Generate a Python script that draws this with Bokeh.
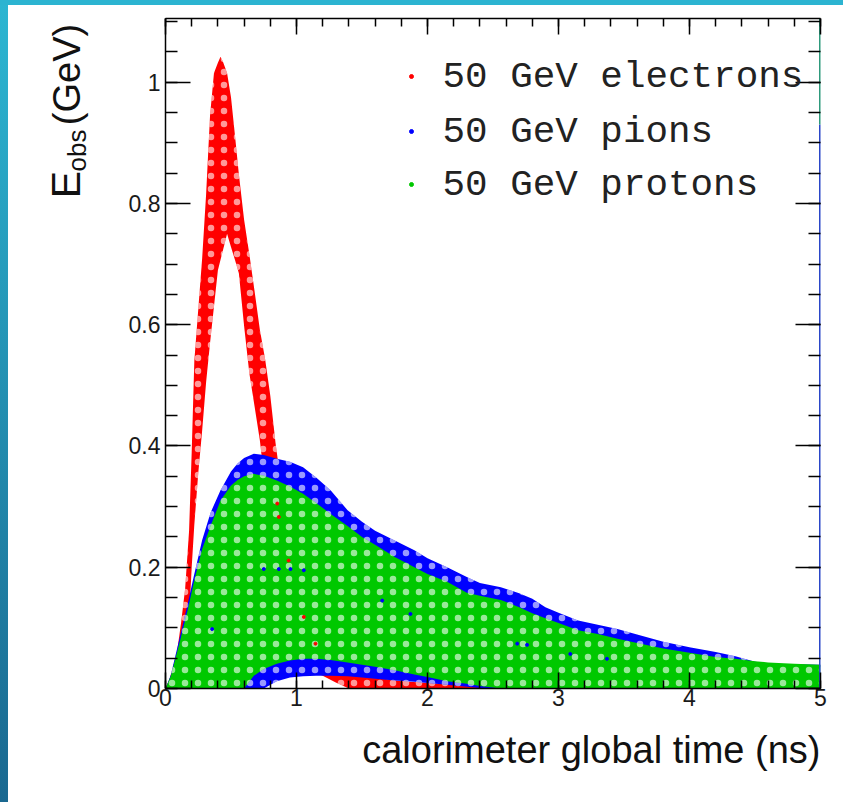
import numpy as np
from bokeh.plotting import figure
from bokeh.layouts import row
from bokeh.models import (Range1d, LinearAxis, SingleIntervalTicker, CustomJSTickFormatter,
                          Label, Title)
from bokeh.embed import file_html
from bokeh.resources import INLINE

# ---------------- data ----------------
T_ELEC = [0, 0.03, 0.06, 0.09, 0.12, 0.15, 0.18, 0.20, 0.22, 0.25, 0.28, 0.31, 0.34, 0.37,
          0.40, 0.42, 0.44, 0.47, 0.50, 0.53, 0.56, 0.60, 0.64, 0.68, 0.72, 0.76, 0.80,
          0.84, 0.88, 0.95, 1.0, 1.1, 1.2, 1.3, 1.4, 1.6, 1.8, 2.1, 2.4, 3.0, 4.0, 5.0]
E_ELEC_HIGH = [0, 0.015, 0.037, 0.063, 0.11, 0.165, 0.26, 0.39, 0.54, 0.625, 0.71, 0.815,
               0.945, 1.015, 1.032, 1.042, 1.033, 1.015, 0.975, 0.913, 0.848, 0.773, 0.716,
               0.655, 0.592, 0.544, 0.483, 0.405, 0.34, 0.26, 0.21, 0.13, 0.07, 0.04, 0.025,
               0.018, 0.012, 0.008, 0.005, 0.004, 0.004, 0.004]
E_ELEC_LOW = [0, 0, 0.005, 0.02, 0.036, 0.055, 0.115, 0.20, 0.27, 0.355, 0.426, 0.505,
              0.57, 0.63, 0.69, 0.707, 0.724, 0.75, 0.728, 0.707, 0.685, 0.598, 0.52, 0.465,
              0.41, 0.335, 0.28, 0.23, 0.175, 0.10, 0.06, 0.03, 0.021, 0.01, 0.0, 0, 0, 0, 0,
              0, 0, 0]

T_HAD = [0, 0.04, 0.115, 0.17, 0.216, 0.28, 0.344, 0.42, 0.5, 0.55, 0.6, 0.674, 0.75, 0.85,
         0.95, 1.05, 1.15, 1.26, 1.39, 1.5, 1.6, 1.75, 1.9, 2.0, 2.15, 2.3, 2.4, 2.56, 2.7,
         2.8, 2.9, 3.0, 3.15, 3.3, 3.45, 3.6, 3.8, 4.0, 4.2, 4.35, 4.5, 4.6, 4.8, 5.0]
E_PION_HIGH = [0, 0.022, 0.09, 0.14, 0.185, 0.245, 0.29, 0.327, 0.358, 0.371, 0.38, 0.387,
               0.385, 0.379, 0.374, 0.365, 0.348, 0.327, 0.294, 0.275, 0.26, 0.244, 0.228,
               0.215, 0.2, 0.184, 0.174, 0.167, 0.157, 0.148, 0.134, 0.125, 0.112, 0.105,
               0.098, 0.089, 0.077, 0.068, 0.06, 0.053, 0.044, 0.041, 0.04, 0.039]
E_PION_LOW = [0, 0, 0, 0, 0, 0, 0, 0, 0, 0, 0, 0, 0, 0.012, 0.018, 0.02, 0.021, 0.021, 0.02,
              0.018, 0.016, 0.013, 0.011, 0.009, 0.006, 0.003, 0.001, 0, 0, 0, 0, 0, 0, 0,
              0, 0, 0, 0, 0, 0, 0, 0, 0, 0]
E_PROTON_HIGH = [0, 0.02, 0.082, 0.13, 0.175, 0.23, 0.268, 0.31, 0.335, 0.344, 0.35, 0.354,
                 0.351, 0.343, 0.333, 0.321, 0.306, 0.288, 0.268, 0.25, 0.237, 0.217, 0.2,
                 0.189, 0.176, 0.158, 0.153, 0.146, 0.134, 0.124, 0.116, 0.108, 0.096, 0.09,
                 0.082, 0.075, 0.066, 0.059, 0.052, 0.049, 0.045, 0.043, 0.041, 0.039]
E_PROTON_LOW = [0, 0, 0, 0, 0, 0, 0, 0, 0, 0, 0.0, 0.021, 0.032, 0.041, 0.046, 0.049, 0.049,
                0.047, 0.043, 0.039, 0.036, 0.03, 0.023, 0.019, 0.012, 0.008, 0.004, 0, 0, 0,
                0, 0, 0, 0, 0, 0, 0, 0, 0, 0, 0, 0, 0, 0]

T_ELEC_STRAY = [0.853, 0.865, 0.94, 1.056, 1.145]
E_ELEC_STRAY = [0.305, 0.283, 0.211, 0.118, 0.074]
T_PION_STRAY = [0.75, 0.865, 0.954, 1.056, 0.356, 1.654, 1.87, 2.685, 2.76, 3.09, 3.37]
E_PION_STRAY = [0.197, 0.197, 0.197, 0.195, 0.098, 0.145, 0.123, 0.074, 0.072, 0.057, 0.049]

LEGEND_LABELS = ["50 GeV electrons", "50 GeV pions", "50 GeV protons"]
X_TITLE = "calorimeter global time (ns)"
Y_TITLE_PARTS = ["E", "obs", "(GeV)"]

RED, BLUE, GREEN = "#ff0000", "#0000ff", "#00c800"

# ---------------- layout geometry ----------------
W, H = 843, 802
LW = 100                       # width of the strip holding the y title
FL, FR, FT, FB = 165, 820, 18, 688
XMIN, XMAX, YMIN, YMAX = 0.0, 5.0, 0.0, 1.105


def px2x(px):
    return XMIN + (px - FL) * (XMAX - XMIN) / (FR - FL)


def py2y(py):
    return YMIN + (FB - py) * (YMAX - YMIN) / (FB - FT)


# ---------------- y-title strip (its frame is aligned with the main frame) ----------------
lab = figure(width=LW, height=H, x_range=Range1d(0, LW), y_range=Range1d(FB, FT),
             output_backend="svg", toolbar_location=None, min_border=0,
             min_border_top=FT, min_border_bottom=H - FB,
             x_axis_type=None, y_axis_type=None)
lab.grid.visible = False
lab.outline_line_color = None
lab.background_fill_color = None
lab.border_fill_color = None
ykw = dict(angle=90, angle_units="deg", text_baseline="alphabetic", text_align="center",
           text_font="Liberation Sans", text_color="#111111")
lab.add_layout(Label(x=65, y=184, text=Y_TITLE_PARTS[0], text_font_size="41px", **ykw))
lab.add_layout(Label(x=76, y=150, text=Y_TITLE_PARTS[1], text_font_size="26px", **ykw))
lab.add_layout(Label(x=66, y=74, text=Y_TITLE_PARTS[2], text_font_size="38px", **ykw))

# ---------------- main plot ----------------
p = figure(width=W - LW, height=H, x_range=Range1d(XMIN, XMAX), y_range=Range1d(YMIN, YMAX),
           output_backend="svg", toolbar_location=None,
           min_border_left=FL - LW, min_border_right=W - FR, min_border_top=FT,
           min_border_bottom=H - FB)
p.grid.visible = False
p.outline_line_color = None
p.background_fill_color = "white"
p.border_fill_color = None

hatch = dict(hatch_pattern="dot", hatch_color="white", hatch_scale=13, hatch_weight=0.5,
             hatch_alpha=0.6)

p.varea(x=T_ELEC, y1=E_ELEC_LOW, y2=E_ELEC_HIGH, fill_color=RED, **hatch)
p.varea(x=T_HAD, y1=E_PION_LOW, y2=E_PION_HIGH, fill_color=BLUE, **hatch)
p.varea(x=T_HAD, y1=E_PROTON_LOW, y2=E_PROTON_HIGH, fill_color=GREEN, **hatch)
p.scatter(x=T_ELEC_STRAY, y=E_ELEC_STRAY, size=3, color=RED)
p.scatter(x=T_PION_STRAY, y=E_PION_STRAY, size=3, color=BLUE)

p.segment(x0=[XMAX, XMAX], y0=[YMIN, 0.93], x1=[XMAX, XMAX], y1=[0.93, YMAX],
          line_color=["#2a46c8", "#2e9a7c"], line_width=3)

EMPTY = CustomJSTickFormatter(code="return '';")


def style_common(ax, labels):
    ax.axis_line_width = 1.5
    ax.major_tick_line_width = 1.5
    ax.minor_tick_line_width = 1.5
    ax.major_tick_out = 0
    ax.minor_tick_out = 0
    ax.major_label_text_font = "Liberation Sans"
    ax.major_label_text_font_size = "23px"
    ax.major_label_text_color = "#1a1a1a"
    if not labels:
        ax.formatter = EMPTY
        ax.major_label_standoff = 0


def style_x(ax, labels=True):
    ax.ticker = SingleIntervalTicker(interval=1, num_minor_ticks=5)
    ax.major_tick_in = 16
    ax.minor_tick_in = 8
    ax.major_label_standoff = 0
    style_common(ax, labels)


def style_y(ax, labels=True):
    ax.ticker = SingleIntervalTicker(interval=0.2, num_minor_ticks=4)
    ax.major_tick_in = 25
    ax.minor_tick_in = 12
    ax.major_label_standoff = 5
    ax.formatter = CustomJSTickFormatter(code="return String(parseFloat(tick.toFixed(2)));")
    style_common(ax, labels)


style_x(p.xaxis[0])
style_y(p.yaxis[0])
top = LinearAxis()
style_x(top, labels=False)
p.add_layout(top, "above")
right = LinearAxis()
style_y(right, labels=False)
right.axis_line_color = None
p.add_layout(right, "right")

p.add_layout(Title(text=X_TITLE, align="right", text_font="Liberation Sans",
                   text_font_size="38px", text_font_style="normal", text_color="#111111",
                   standoff=36), "below")

# legend
for lab_text, col, cy in zip(LEGEND_LABELS, [RED, BLUE, GREEN], [76, 131, 184]):
    p.scatter(x=[px2x(411)], y=[py2y(cy)], size=4, color=col)
    p.add_layout(Label(x=px2x(442), y=py2y(cy), text=lab_text, text_align="left",
                       text_baseline="alphabetic", text_font="Liberation Mono",
                       text_font_size="37.6px", text_color="#222222"))

layout = row(lab, p, spacing=0)
layout.styles = {
    "background": "linear-gradient(#2cb4d1, #2cb4d1) top left / 100% 5px no-repeat, "
                  "linear-gradient(to bottom, #2cb6d2, #1a6890) top left / 8px 100% no-repeat, "
                  "#ffffff"
}

open("out.html", "w").write(file_html(layout, INLINE))
